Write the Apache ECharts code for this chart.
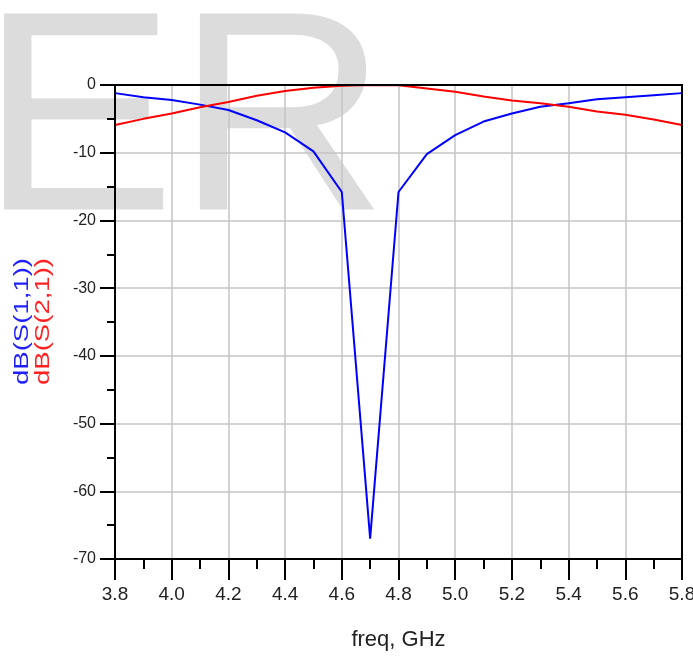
<!DOCTYPE html>
<html>
<head>
<meta charset="utf-8">
<script src="https://cdn.jsdelivr.net/npm/echarts@6/dist/echarts.min.js"></script>
<style>
html,body{margin:0;padding:0;background:#fff;}
#c{width:693px;height:658px;}
</style>
</head>
<body>
<div id="c"></div>
<script>
const freq = [3.8,3.9,4.0,4.1,4.2,4.3,4.4,4.5,4.6,4.7,4.8,4.9,5.0,5.1,5.2,5.3,5.4,5.5,5.6,5.7,5.8];
const s11 = [-1.2,-1.8,-2.2,-2.9,-3.7,-5.2,-7.0,-9.8,-15.8,-67,-15.8,-10.2,-7.4,-5.4,-4.2,-3.2,-2.7,-2.1,-1.8,-1.5,-1.2];
const s21 = [-5.9,-5.0,-4.2,-3.3,-2.5,-1.6,-0.9,-0.4,-0.1,0,-0.05,-0.5,-1.0,-1.7,-2.3,-2.7,-3.2,-3.9,-4.4,-5.1,-5.9];
const xTicks = {min:3.8, max:5.8, step:0.2};
const yTicks = {min:-70, max:0, step:10};
const xName = 'freq, GHz';
const yNames = ['dB(S(1,1))','dB(S(2,1))'];
const watermark = 'ER';

const sans = "'Liberation Sans',Arial,sans-serif";

const chart = echarts.init(document.getElementById('c'));
chart.setOption({
  animation:false,
  backgroundColor:'#fff',
  graphic:[
    {type:'text', z:-10, x:-20, y:131, scaleX:1.03, style:{text:watermark, fill:'#dcdcdc', font:'285px '+sans, align:'left', verticalAlign:'middle'}},
    {type:'text', z:10, x:22.5, y:321.5, rotation:Math.PI/2, scaleX:1.377, style:{text:yNames[0], fill:'#2020ff', font:'20px '+sans, align:'center', verticalAlign:'middle'}},
    {type:'text', z:10, x:43.5, y:321.5, rotation:Math.PI/2, scaleX:1.377, style:{text:yNames[1], fill:'#ff2020', font:'20px '+sans, align:'center', verticalAlign:'middle'}}
  ],
  grid:{left:115, right:11, top:85, bottom:99, outerBoundsMode:'none', containLabel:false, show:true, borderColor:'#000', borderWidth:2, backgroundColor:'transparent', z:5},
  xAxis:{
    type:'value', min:xTicks.min, max:xTicks.max, interval:xTicks.step,
    name:xName, nameLocation:'middle', nameGap:70,
    nameTextStyle:{fontFamily:sans, fontSize:22, color:'#222'},
    axisLine:{show:true, onZero:false, lineStyle:{color:'#000', width:2}},
    axisTick:{show:true, length:21, lineStyle:{color:'#000', width:2}},
    minorTick:{show:true, splitNumber:2, length:10, lineStyle:{color:'#000', width:2}},
    splitLine:{show:true, lineStyle:{color:'#c4c4c4', width:1.5}},
    axisLabel:{margin:26, fontFamily:sans, fontSize:19, color:'#222', formatter:v=>v.toFixed(1)}
  },
  yAxis:{
    type:'value', min:yTicks.min, max:yTicks.max, interval:yTicks.step,
    axisLine:{show:true, onZero:false, lineStyle:{color:'#000', width:2}},
    axisTick:{show:true, length:15, lineStyle:{color:'#000', width:2}},
    minorTick:{show:true, splitNumber:2, length:8, lineStyle:{color:'#000', width:2}},
    splitLine:{show:true, lineStyle:{color:'#c4c4c4', width:1.5}},
    axisLabel:{margin:19, fontFamily:sans, fontSize:16, color:'#222'}
  },
  series:[
    {type:'line', name:yNames[0], data:freq.map((f,i)=>[f,s11[i]]), showSymbol:false, lineStyle:{color:'#0000ff', width:2}, z:3},
    {type:'line', name:yNames[1], data:freq.map((f,i)=>[f,s21[i]]), showSymbol:false, lineStyle:{color:'#ff0000', width:2}, z:3}
  ]
});
</script>
</body>
</html>
